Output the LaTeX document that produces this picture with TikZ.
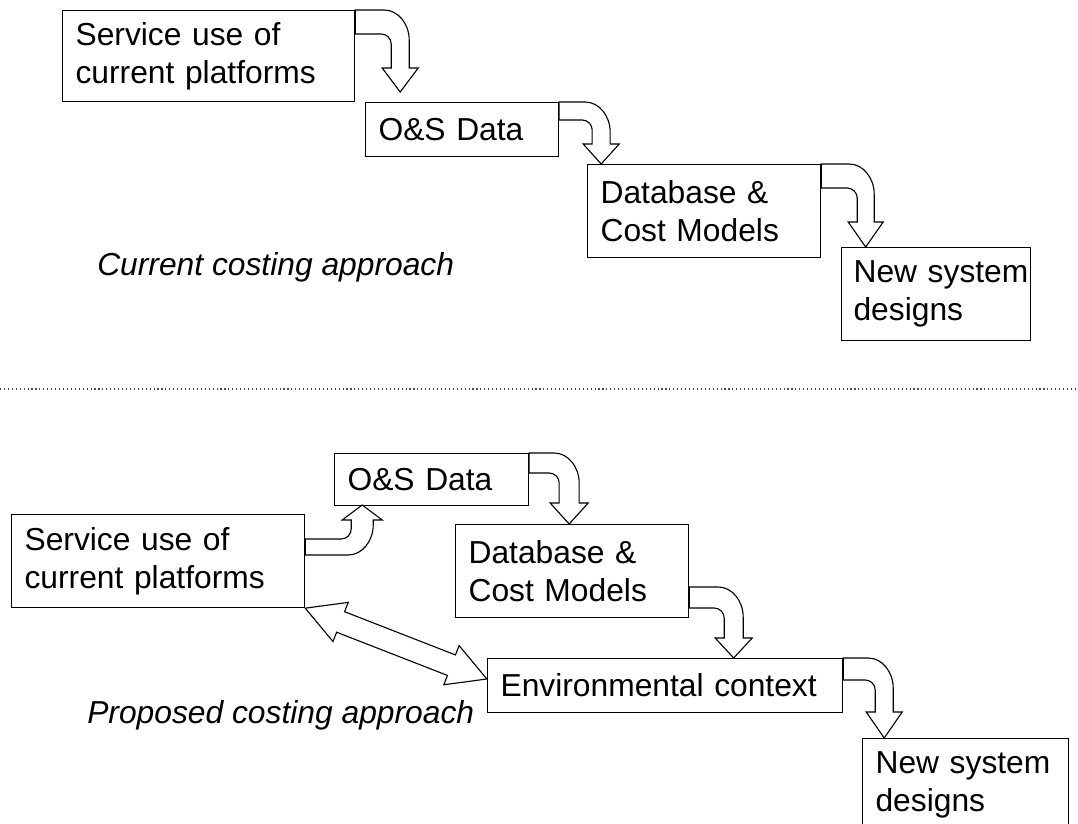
\documentclass[tikz,border=0pt]{standalone}
\usepackage{fontspec}
\setmainfont{Liberation Sans}
\usetikzlibrary{calc}

\newcommand{\boxfont}{\fontsize{22.6}{27}\selectfont}
% bent block arrow: [opts]{start}{shaft}{outer x}{inner x}{head base}{head length}
\newcommand{\bentarrow}[7][]{%
	\begin{scope}[shift={#2},#1]
		\draw[blockarrow] (0,0) -- ({#4-25},0)
		.. controls ({#4-11},0) and (#4,14) .. (#4,30)
		-- (#4,#6) -- ({#4+9},#6) -- ({(#4+#5)/2},{#6+#7}) -- ({#5-9},#6) -- (#5,#6)
		-- (#5,{#3+10}) .. controls (#5,{#3+4.5}) and ({#5-4.5},#3) .. ({#5-10},#3)
		-- (0,#3) -- cycle;
	\end{scope}}

\begin{document}
\begin{tikzpicture}[x=0.025cm,y=-0.025cm,
	box/.style={draw,line width=0.8pt,rectangle,anchor=north west,align=left,
		inner xsep=0.325cm,inner ysep=2pt,font=\boxfont},
	blockarrow/.style={draw,line width=0.8pt,fill=white,line join=miter},
	caption/.style={font=\boxfont\itshape,anchor=base west,inner sep=0pt}]
	\clip (0,0) rectangle (1078,823);
	\fill[white] (0,0) rectangle (1078,823);
	% current approach
	\path
	+(62,10)   node[box,text width=6.65cm,minimum height=2.275cm]  (s1)   {Service use of\\current platforms}
	+(365,102) node[box,text width=4.175cm,minimum height=1.35cm]  (os1)  {O\&S Data}
	+(587,164) node[box,text width=5.175cm,minimum height=2.325cm] (db1)  {Database \&\\Cost Models}
	+(841,247) node[box,inner xsep=0.3cm,text width=4.125cm,minimum height=2.325cm] (nsd1) {\mbox{New system}\\designs}
	;
	\bentarrow{(s1.north east)}{24}{54}{36}{58}{24}
	\bentarrow{(os1.north east)}{18}{51}{33}{42}{20}
	\bentarrow{(db1.north east)}{24}{53}{36}{58}{25}
	\node[caption] (cap1) at (97,275) {Current costing approach};
	
	\draw[dotted,line width=0.8pt,black!70] (0,389) -- (1078,389);
	
	% proposed approach
	\path
	+(11,514)  node[box,text width=6.675cm,minimum height=2.325cm] (s2)   {Service use of\\current platforms}
	+(334,453) node[box,text width=4.2cm,minimum height=1.3cm]     (os2)  {O\&S Data}
	+(455,524) node[box,text width=5.175cm,minimum height=2.325cm] (db2)  {Database \&\\Cost Models}
	+(487,658) node[box,text width=8.225cm,minimum height=1.35cm]  (env)  {Environmental context}
	+(862,738) node[box,text width=4.5cm,minimum height=2.325cm]   (nsd2) {\mbox{New system}\\designs}
	;
	\bentarrow[yscale=-1]{($(s2.north east)+(0,41)$)}{16}{68}{46}{35}{15}
	\bentarrow{(os2.north east)}{20}{50}{30}{50}{21}
	\bentarrow{($(db2.north east)+(0,63)$)}{21}{54}{35}{51}{20}
	\bentarrow{(env.north east)}{22}{50}{32}{54}{26}
	\begin{scope}[shift={(s2.south east)},rotate=-21.3]
		\draw[blockarrow] (0,0) -- (38,-21) -- (38,-11) -- (157,-11) -- (157,-21) -- (195,0)
		-- (157,21) -- (157,11) -- (38,11) -- (38,21) -- cycle;
	\end{scope}
	\node[caption] (cap2) at (87,723) {Proposed costing approach};
\end{tikzpicture}
\end{document}
